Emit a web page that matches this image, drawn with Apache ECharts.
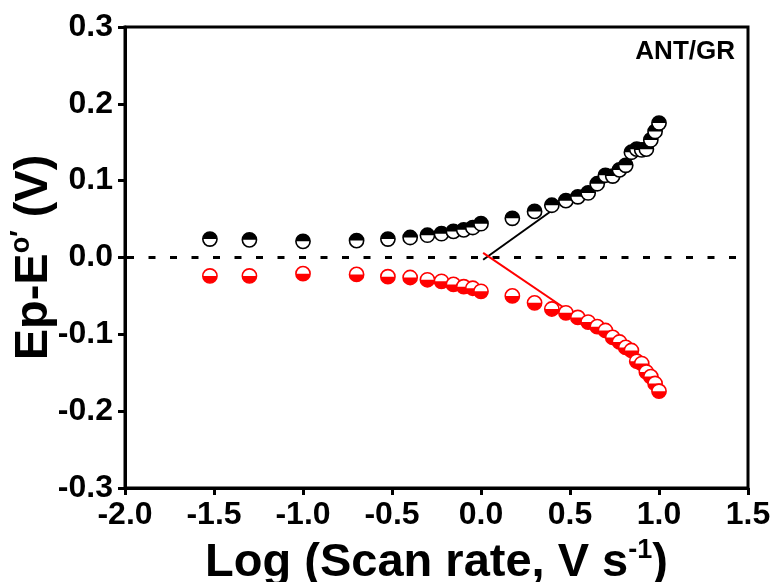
<!DOCTYPE html>
<html>
<head>
<meta charset="utf-8">
<script src="https://cdn.jsdelivr.net/npm/echarts@6/dist/echarts.min.js"></script>
<style>html,body{margin:0;padding:0;background:#fff;}#c{width:776px;height:582px;}</style>
</head>
<body>
<div id="c"></div>
<script>
// log10 of scan rate (V/s)
const logScanRate = [-1.523, -1.301, -1.0, -0.699, -0.523, -0.398, -0.301, -0.222, -0.155, -0.097, -0.046, 0.0,
  0.176, 0.301, 0.398, 0.477, 0.544, 0.602, 0.653, 0.699, 0.740, 0.778, 0.813, 0.845, 0.875, 0.903, 0.929, 0.954, 0.978, 1.0];
// anodic Ep - E°'
const anodic = [0.024, 0.023, 0.021, 0.022, 0.024, 0.026, 0.029, 0.031, 0.034, 0.036, 0.039, 0.044,
  0.051, 0.060, 0.068, 0.074, 0.079, 0.084, 0.096, 0.107, 0.106, 0.114, 0.120, 0.137, 0.141, 0.140, 0.141, 0.153, 0.164, 0.175];
// cathodic Ep - E°'
const cathodic = [-0.024, -0.024, -0.021, -0.022, -0.025, -0.026, -0.029, -0.031, -0.035, -0.038, -0.040, -0.044,
  -0.050, -0.059, -0.067, -0.072, -0.078, -0.084, -0.090, -0.095, -0.104, -0.110, -0.117, -0.121, -0.135, -0.138, -0.149, -0.155, -0.164, -0.174];
// linear fits
const anodicFitX = [0.012, 0.434];
const anodicFitY = [-0.003, 0.067];
const cathodicFitX = [0.012, 0.483];
const cathodicFitY = [0.006, -0.068];
const zeroLineX = [-2.0, 1.5];
const zeroLineY = [0, 0];
const xTicks = {min: -2.0, max: 1.5, interval: 0.5};
const yTicks = {min: -0.3, max: 0.3, interval: 0.1};
const annotation = 'ANT/GR';

const FONT = '"Liberation Sans", Arial, sans-serif';
const zip = (a, b) => a.map((v, i) => [v, b[i]]);

function halfMarker(topFilled, color) {
  return function (params, api) {
    const p = api.coord([api.value(0), api.value(1)]);
    const r = 7.1;
    return {
      type: 'group',
      children: [
        {type: 'circle', shape: {cx: p[0], cy: p[1], r: r}, style: {fill: '#fff', stroke: null}},
        {type: 'sector', shape: {cx: p[0], cy: p[1], r0: 0, r: r,
          startAngle: topFilled ? Math.PI : 0, endAngle: topFilled ? 2 * Math.PI : Math.PI, clockwise: true},
          style: {fill: color, stroke: null}},
        {type: 'circle', shape: {cx: p[0], cy: p[1], r: r}, style: {fill: null, stroke: color, lineWidth: 1.6}}
      ]
    };
  };
}

const chart = echarts.init(document.getElementById('c'), null, {renderer: 'canvas'});
chart.setOption({
  animation: false,
  backgroundColor: '#fff',
  grid: {left: 125, right: 28, top: 27, bottom: 94, containLabel: false, outerBoundsMode: 'none',
    show: true, borderColor: '#000', borderWidth: 3, backgroundColor: 'transparent'},
  title: {text: annotation, right: 36, top: 34, textStyle: {fontFamily: FONT, fontWeight: 'bold', fontSize: 26, color: '#000'}},
  xAxis: {
    type: 'value', min: xTicks.min, max: xTicks.max, interval: xTicks.interval,
    axisLine: {show: true, onZero: false, lineStyle: {color: '#000', width: 3}},
    axisTick: {show: true, inside: false, length: 7, lineStyle: {color: '#000', width: 3}},
    splitLine: {show: false},
    axisLabel: {color: '#000', fontFamily: FONT, fontWeight: 'bold', fontSize: 32, margin: 11,
      formatter: v => v.toFixed(1)},
    name: '{a|Log (Scan rate, V s}{s|-1}{a|)}',
    nameLocation: 'middle', nameGap: 49, nameMoveOverlap: false,
    nameTextStyle: {rich: {
      a: {fontFamily: FONT, fontWeight: 'bold', fontSize: 47, color: '#000', lineHeight: 50, verticalAlign: 'bottom'},
      s: {fontFamily: FONT, fontWeight: 'bold', fontSize: 27, color: '#000', lineHeight: 50, verticalAlign: 'top'}
    }}
  },
  yAxis: {
    type: 'value', min: yTicks.min, max: yTicks.max, interval: yTicks.interval,
    axisLine: {show: true, onZero: false, lineStyle: {color: '#000', width: 3}},
    axisTick: {show: true, inside: false, length: 7, lineStyle: {color: '#000', width: 3}},
    splitLine: {show: false},
    axisLabel: {color: '#000', fontFamily: FONT, fontWeight: 'bold', fontSize: 32, margin: 12,
      formatter: v => v.toFixed(1)},
    name: '{a|Ep-E}{s|o′}{a| (V)}',
    nameLocation: 'middle', nameGap: 67, nameRotate: 90, nameMoveOverlap: false,
    nameTextStyle: {rich: {
      a: {fontFamily: FONT, fontWeight: 'bold', fontSize: 47, color: '#000', lineHeight: 50, verticalAlign: 'bottom'},
      s: {fontFamily: FONT, fontWeight: 'bold', fontSize: 27, color: '#000', lineHeight: 50, verticalAlign: 'top'}
    }}
  },
  series: [
    {type: 'line', data: zip(zeroLineX, zeroLineY), symbol: 'none', silent: true,
      lineStyle: {color: '#000', width: 3, type: [7, 14.5], dashOffset: -2}, z: 1},
    {type: 'line', data: zip(anodicFitX, anodicFitY), symbol: 'none', silent: true,
      lineStyle: {color: '#000', width: 2}, z: 2},
    {type: 'line', data: zip(cathodicFitX, cathodicFitY), symbol: 'none', silent: true,
      lineStyle: {color: '#ff0000', width: 2}, z: 2},
    {type: 'custom', data: zip(logScanRate, anodic), renderItem: halfMarker(true, '#000'), z: 3},
    {type: 'custom', data: zip(logScanRate, cathodic), renderItem: halfMarker(false, '#ff0000'), z: 3}
  ]
});
</script>
</body>
</html>
